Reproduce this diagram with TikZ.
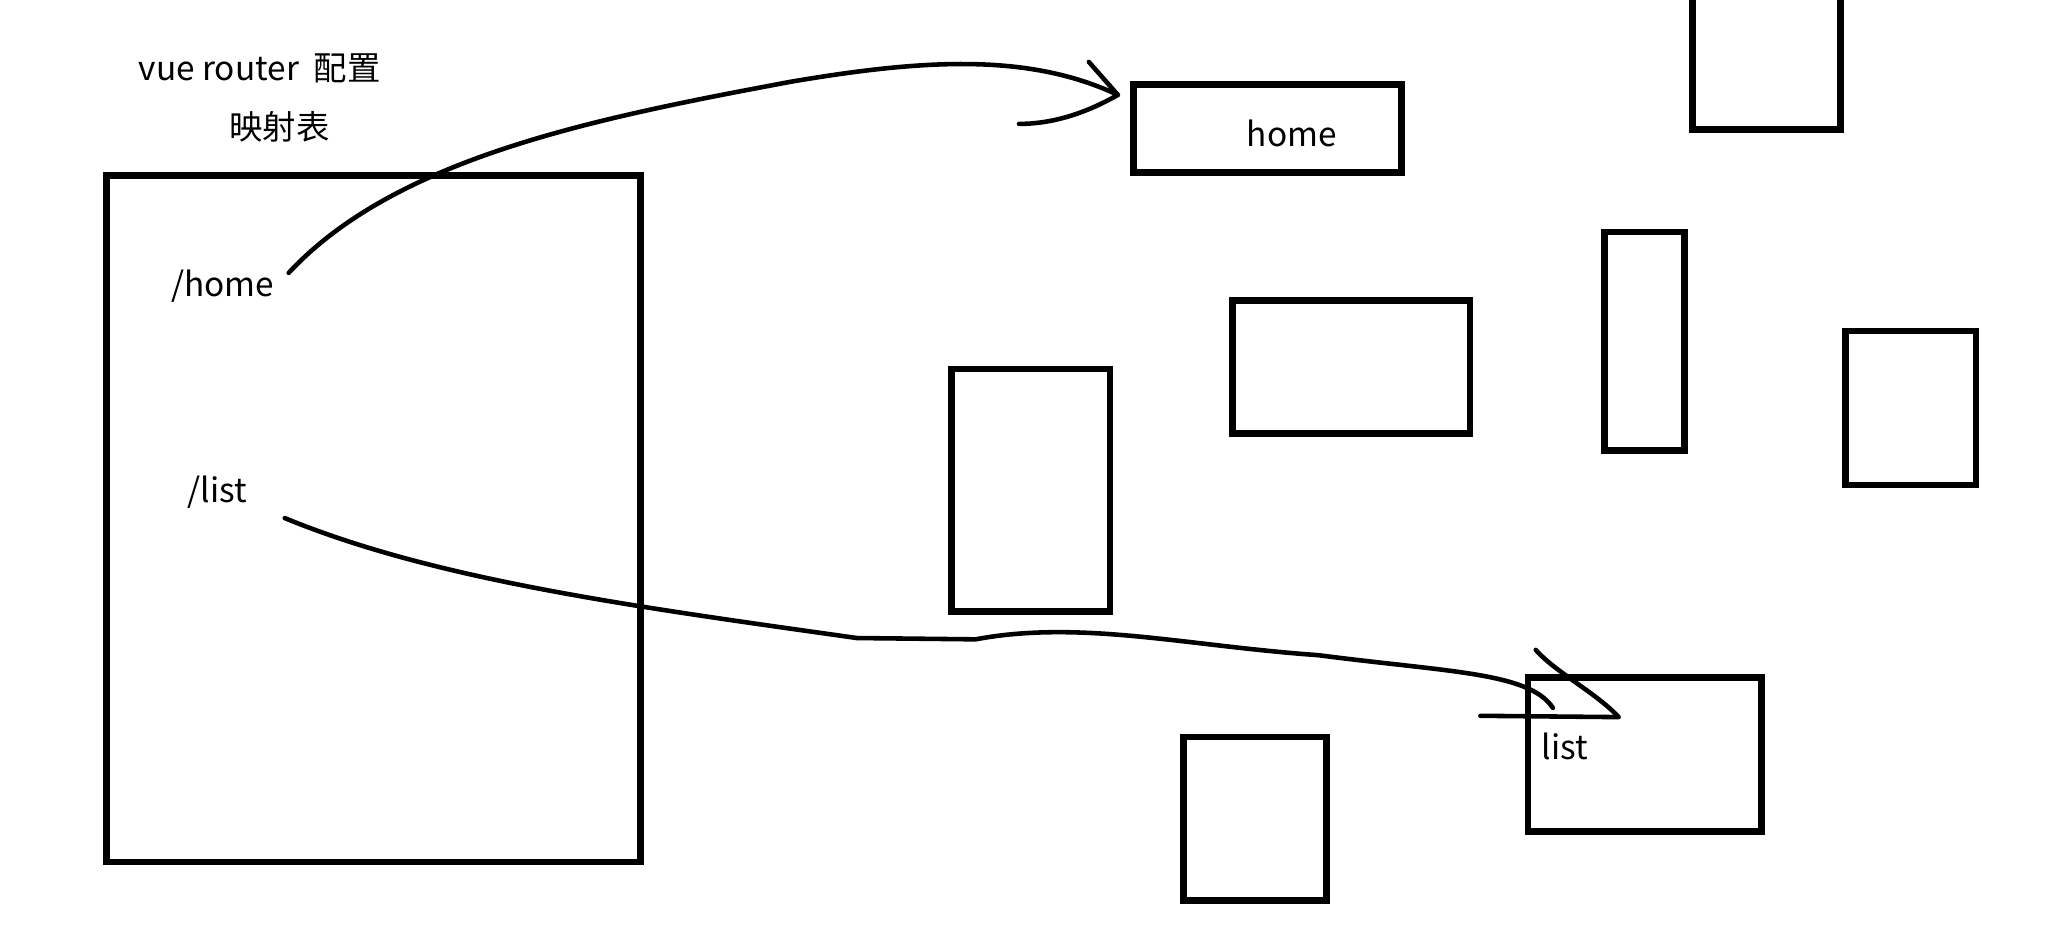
\documentclass[tikz,border=0pt]{standalone}
\usepackage{fontspec}
\setmainfont{Noto Sans CJK SC}
\tikzset{
  box/.style={draw,line width=1.9pt},
  lbl/.style={font=\fontsize{9.5}{11}\selectfont,inner sep=0pt},
  pen/.style={line width=1.3pt,line cap=round,line join=round}
}
\begin{document}
\begin{tikzpicture}[x=0.01318cm,y=-0.01318cm]
\useasboundingbox (0,0) rectangle (1568,705);
% boxes
\draw[box] (81,133) rectangle (486,654);
\draw[box] (860,64) rectangle (1063,131);
\draw[box] (1284,-5) rectangle (1396,98);
\draw[box] (935,228) rectangle (1115,329);
\draw[box] (1217,176) rectangle (1278,342);
\draw[box] (1400,251) rectangle (1499,368);
\draw[box] (722,280) rectangle (842,464);
\draw[box] (898,559) rectangle (1006,683);
\draw[box] (1159,514) rectangle (1336,631);
% texts
\node[lbl] (title) at (197,52) {vue router\ \ 配置};
\node[lbl] (table) at (212,96) {映射表};
\node[lbl] (homepath) at (169,217) {/home};
\node[lbl] (listpath) at (165,373) {/list};
\node[lbl] (home) at (980,101) {home};
\node[lbl] (list) at (1187,566) {list};
% home arrow
\coordinate (ha) at (848,72);
\draw[pen] (219,207) .. controls (300,120) and (450,90) .. (600,62)
  .. controls (700,45) and (780,40) .. (ha);
\draw[pen] (826,47) -- (ha) .. controls (820,88) and (795,94) .. (773,94);
% list arrow
\coordinate (la) at (1228,544);
\draw[pen] (216,393) .. controls (330,440) and (480,460) .. (650,484)
  -- (740,485) .. controls (820,470) and (900,490) .. (1000,497)
  .. controls (1100,510) and (1160,510) .. (1178,537);
\draw[pen] (1165,493) .. controls (1180,510) and (1210,525) .. (la) -- (1123,543);
\end{tikzpicture}
\end{document}
